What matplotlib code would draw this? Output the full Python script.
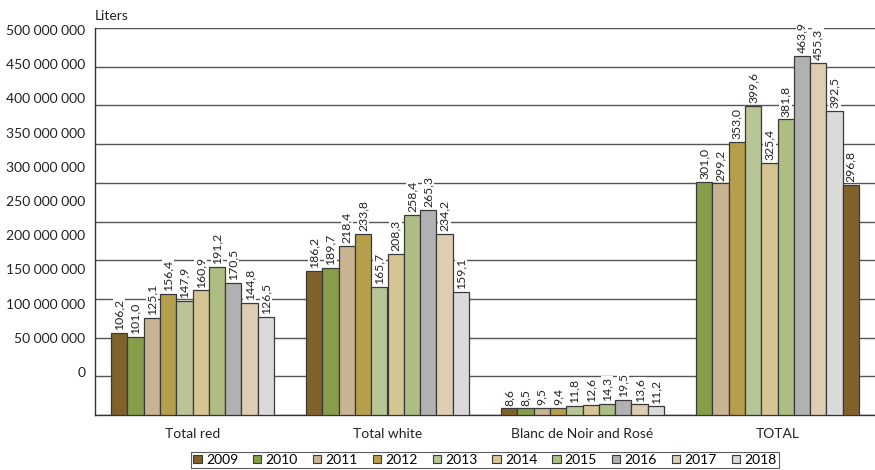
import numpy as np
import matplotlib
matplotlib.use("Agg")
import matplotlib.pyplot as plt
from matplotlib.patches import Patch

plt.rcParams['font.family'] = ['Lato', 'DejaVu Sans']

categories = ["Total red", "Total white", "Blanc de Noir and Rosé", "TOTAL"]
years = ["2009", "2010", "2011", "2012", "2013", "2014", "2015", "2016", "2017", "2018"]

# million liters, per year
total_red = [106.2, 101.0, 125.1, 156.4, 147.9, 160.9, 191.2, 170.5, 144.8, 126.5]
total_white = [186.2, 189.7, 218.4, 233.8, 165.7, 208.3, 258.4, 265.3, 234.2, 159.1]
blanc_rose = [8.6, 8.5, 9.5, 9.4, 11.8, 12.6, 14.3, 19.5, 13.6, 11.2]
total_all = [301.0, 299.2, 353.0, 399.6, 325.4, 381.8, 463.9, 455.3, 392.5, 296.8]

year_colors = ["#80612a", "#889d4a", "#c8b392", "#b59e4c", "#bac597",
               "#d6c594", "#adbd84", "#b1b1b1", "#dccdb3", "#dadada"]

y_ticks = [0, 50, 100, 150, 200, 250, 300, 350, 400, 450, 500]


def fmt(v):
    return f"{v:.1f}".replace(".", ",")


def tick_label(v):
    return f"{int(v * 1e6):,}".replace(",", " ")


fig = plt.figure(figsize=(8.75, 4.7), dpi=100)
rect = [95 / 875, 55 / 470, 780 / 875, 387 / 470]

# separate axis that only carries the (offset) y labels as in the original
lab_ax = fig.add_axes(rect, frameon=False)
lab_ax.set_ylim(-62.9e6, 503e6)
lab_ax.set_yticks([v * 1e6 for v in y_ticks])
lab_ax.set_yticklabels([tick_label(v) for v in y_ticks], fontsize=10, color="#222222")
lab_ax.tick_params(axis="y", length=0, pad=7)
lab_ax.set_xticks([])

ax = fig.add_axes(rect)
ax.patch.set_alpha(0)
ax.set_ylim(0, 500e6)
ax.set_xlim(-0.5, 3.5)
ax.set_yticks([v * 1e6 for v in y_ticks])
ax.set_yticklabels([])
ax.tick_params(axis="y", length=0)
ax.grid(axis="y", color="#555555", linewidth=1)
ax.set_axisbelow(True)

series = [total_red, total_white, blanc_rose, total_all]
x = np.arange(len(categories))
width = 0.0836

for gi, vals in enumerate(series):
    for i, v in enumerate(vals):
        # colours in the TOTAL group are shifted by one year in the source chart
        ci = (i + 1) % 10 if gi == 3 else i
        xpos = x[gi] + (i - 4.5) * width
        ax.bar(xpos, v * 1e6, width, color=year_colors[ci],
               edgecolor="#3a3a3a", linewidth=0.9, zorder=3)
        ax.annotate(fmt(v), (xpos, v * 1e6), xytext=(0, 2), textcoords="offset points",
                    rotation=90, ha="center", va="bottom", fontsize=8.8, color="#222222",
                    bbox=dict(facecolor="white", edgecolor="none", pad=0.5), zorder=4)

ax.set_xticks(x)
ax.set_xticklabels(categories, fontsize=10, color="#222222")
ax.tick_params(axis="x", length=0, pad=9)

for s in ["top", "right"]:
    ax.spines[s].set_visible(False)
for s in ["left", "bottom"]:
    ax.spines[s].set_color("#333333")
    ax.spines[s].set_linewidth(1)

ax.text(0, 1.015, "Liters", transform=ax.transAxes, fontsize=10, color="#222222",
        ha="left", va="bottom")

handles = [Patch(facecolor=c, edgecolor="#3a3a3a", linewidth=0.8) for c in year_colors]
leg = ax.legend(handles, years, ncol=10, loc="upper center", bbox_to_anchor=(0.5, -0.095),
                fontsize=10, frameon=True, fancybox=False, handlelength=0.6,
                handleheight=0.6, handletextpad=0.3, columnspacing=1.08,
                borderpad=0.15, borderaxespad=0)
leg.get_frame().set_edgecolor("#333333")
leg.get_frame().set_linewidth(0.8)

fig.savefig("out.png", dpi=100)
